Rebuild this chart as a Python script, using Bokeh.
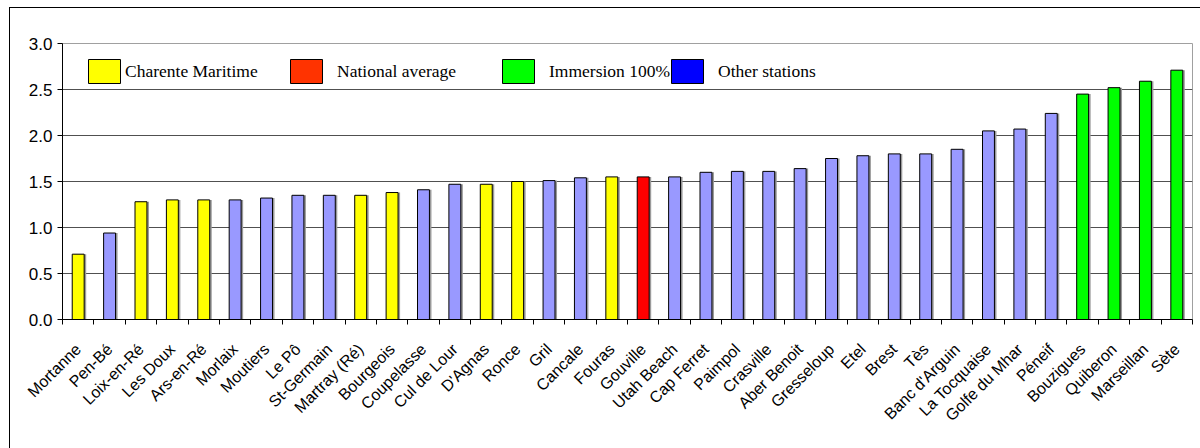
import numpy as np
from bokeh.plotting import figure
from bokeh.models import (ColumnDataSource, Range1d, FixedTicker, Legend, LegendItem,
                          PrintfTickFormatter)
from bokeh.transform import dodge
from bokeh.embed import file_html
from bokeh.resources import INLINE

stations = ["Mortanne", "Pen-Bé", "Loix-en-Ré", "Les Doux", "Ars-en-Ré", "Morlaix",
            "Moutiers", "Le Pô", "St-Germain", "Martray (Ré)", "Bourgeois", "Coupelasse",
            "Cul de Lour", "D'Agnas", "Ronce", "Gril", "Cancale", "Fouras", "Gouville",
            "Utah Beach", "Cap Ferret", "Paimpol", "Crasville", "Aber Benoit", "Gresseloup",
            "Etel", "Brest", "Tès", "Banc d'Arguin", "La Tocquaise", "Golfe du Mhar",
            "Péneif", "Bouzigues", "Quiberon", "Marseillan", "Sète"]
values = [0.71, 0.94, 1.28, 1.30, 1.30, 1.30, 1.32, 1.35, 1.35, 1.35, 1.38, 1.41,
          1.47, 1.47, 1.50, 1.51, 1.54, 1.55, 1.55, 1.55, 1.60, 1.61, 1.61, 1.64,
          1.75, 1.78, 1.80, 1.80, 1.85, 2.05, 2.07, 2.24, 2.45, 2.52, 2.59, 2.71]
groups = ["cm", "other", "cm", "cm", "cm", "other", "other", "other", "other", "cm",
          "cm", "other", "other", "cm", "cm", "other", "other", "cm", "nat", "other",
          "other", "other", "other", "other", "other", "other", "other", "other", "other",
          "other", "other", "other", "imm", "imm", "imm", "imm"]
y_ticks = [0.0, 0.5, 1.0, 1.5, 2.0, 2.5, 3.0]

legend_keys = ["cm", "nat", "imm", "other"]
legend_labels = ["Charente Maritime", "National average", "Immersion 100%", "Other stations"]

bar_colors = {"cm": "#FFFF00", "nat": "#FF0000", "imm": "#00FF00", "other": "#9999FF"}
swatch_colors = {"cm": "#FFFF00", "nat": "#FF3300", "imm": "#00FF00", "other": "#0000FF"}

n = len(stations)
xs = np.arange(n) + 0.5
src = ColumnDataSource(dict(x=xs, top=values, color=[bar_colors[g] for g in groups],
                            name=stations))
# legend-only source: no drawable rows (NaN), one row per legend entry
leg_src = ColumnDataSource(dict(x=[np.nan] * len(legend_keys), top=[np.nan] * len(legend_keys),
                                color=[swatch_colors[k] for k in legend_keys]))

p = figure(width=1200, height=450, x_range=Range1d(0, n), y_range=Range1d(0, 3.0),
           output_backend="svg", toolbar_location=None,
           min_border_left=52, min_border_top=35, min_border_right=18, min_border_bottom=139,
           styles={"margin-left": "9px", "margin-top": "7px",
                   "border-left": "1px solid black", "border-top": "1px solid black"})

p.vbar(x=dodge("x", 0.065, range=p.x_range), top="top", bottom=0, width=0.38, source=src,
       fill_color="#9a9a9a", line_color=None)
p.vbar(x="x", top="top", bottom=0, width=0.38, source=src,
       fill_color="color", line_color="black", line_width=1)
leg_r = p.vbar(x="x", top="top", bottom=0, width=0.38, source=leg_src,
               fill_color="color", line_color="black", line_width=1)

p.xgrid.visible = False
p.ygrid.ticker = FixedTicker(ticks=y_ticks)
p.ygrid.grid_line_color = "#505050"
p.outline_line_color = "#a0a0a0"

xa = p.xaxis[0]
xa.ticker = FixedTicker(ticks=list(xs), minor_ticks=list(range(n + 1)))
xa.major_label_overrides = {float(x): s for x, s in zip(xs, stations)}
xa.major_tick_in = 0
xa.major_tick_out = 0
xa.minor_tick_in = 0
xa.minor_tick_out = 5
xa.minor_tick_line_color = "black"
xa.axis_line_color = "black"
xa.major_label_orientation = np.pi / 4
xa.major_label_text_font = "Liberation Sans"
xa.major_label_text_font_size = "16px"
xa.major_label_text_color = "black"
xa.major_label_standoff = 22

ya = p.yaxis[0]
ya.ticker = FixedTicker(ticks=y_ticks)
ya.formatter = PrintfTickFormatter(format="%.1f")
ya.major_tick_in = 0
ya.major_tick_out = 5
ya.minor_tick_line_color = None
ya.axis_line_color = "black"
ya.major_label_text_font = "Liberation Sans"
ya.major_label_text_font_size = "17px"
ya.major_label_text_color = "black"
ya.major_label_standoff = 5

legend_x = [22, 224, 436, 605]
legend_standoff = [1, 11, 11, 11]
for i, (label, lx, ls) in enumerate(zip(legend_labels, legend_x, legend_standoff)):
    lg = Legend(items=[LegendItem(label=label, renderers=[leg_r], index=i)],
                location=(lx, 227),
                orientation="horizontal", glyph_width=40, glyph_height=30,
                label_standoff=ls, padding=0, margin=0, spacing=0,
                border_line_color=None, background_fill_alpha=0,
                label_text_font="Liberation Serif", label_text_font_size="17.5px",
                label_text_color="black", label_height=42)
    p.add_layout(lg)

open("out.html", "w").write(file_html(p, INLINE))
